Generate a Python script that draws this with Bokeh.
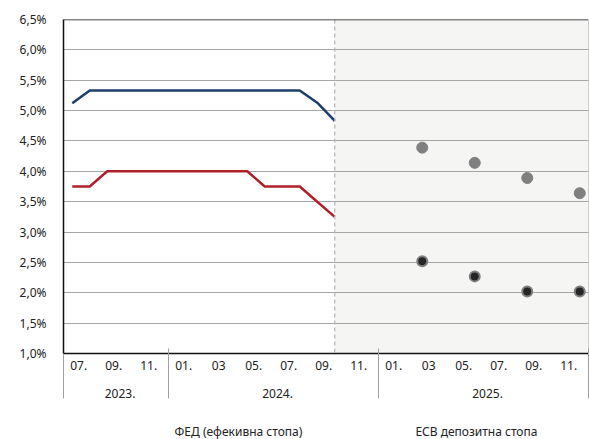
from bokeh.plotting import figure
from bokeh.layouts import column
from bokeh.models import (Range1d, LinearAxis, FixedTicker, Span, BoxAnnotation,
                          Legend, LegendItem, Grid, ColumnDataSource)
from bokeh.embed import file_html
from bokeh.resources import INLINE

# ---- data (month index 0 = Jul 2023) ----
hist_month = list(range(16))  # Jul 2023 .. Oct 2024
fed_rate = [5.12, 5.33, 5.33, 5.33, 5.33, 5.33, 5.33, 5.33, 5.33, 5.33,
            5.33, 5.33, 5.33, 5.33, 5.13, 4.83]
ecb_rate = [3.75, 3.75, 4.00, 4.00, 4.00, 4.00, 4.00, 4.00, 4.00, 4.00,
            4.00, 3.75, 3.75, 3.75, 3.50, 3.25]
exp_month = [20, 23, 26, 29]  # Mar, Jun, Sep, Dec 2025
fed_expected = [4.39, 4.14, 3.89, 3.64]
ecb_expected = [2.52, 2.27, 2.02, 2.02]
forecast_start = 15

month_tick_index = [0, 2, 4, 6, 8, 10, 12, 14, 16, 18, 20, 22, 24, 26, 28]
month_tick_labels = ["07.", "09.", "11.", "01.", "03", "05.", "07.", "09.", "11.",
                     "01.", "03", "05.", "07.", "09.", "11."]
year_center = [2.5, 11.5, 23.5]
year_labels = ["2023.", "2024.", "2025."]
year_bounds = [-0.5, 5.5, 17.5, 29.5]
y_ticks = [1.0, 1.5, 2.0, 2.5, 3.0, 3.5, 4.0, 4.5, 5.0, 5.5, 6.0, 6.5]
y_labels = ["1,0%", "1,5%", "2,0%", "2,5%", "3,0%", "3,5%", "4,0%", "4,5%",
            "5,0%", "5,5%", "6,0%", "6,5%"]
fed_name = "ФЕД (ефекивна стопа)"
ecb_name = "ЕСВ депозитна стопа"

FONT = "Noto Sans"
TXT = "#222222"
BLUE = "#1d3d6b"
RED = "#b0202a"
GRID = "#a6a6a6"

p = figure(frame_width=525, frame_height=334,
           x_range=Range1d(-0.5, 29.5), y_range=Range1d(1.0, 6.5),
           x_axis_type=None, y_axis_type=None,
           output_backend="svg", toolbar_location=None,
           min_border_left=63, min_border_top=19, min_border_right=1,
           min_border_bottom=69)
p.outline_line_color = None
p.background_fill_color = "white"

# forecast shading and divider
p.add_layout(BoxAnnotation(left=forecast_start, right=29.5, fill_color="#f5f5f3",
                           fill_alpha=1, line_color=None, level="image"))

yticker = FixedTicker(ticks=y_ticks)
p.add_layout(Grid(dimension=1, ticker=yticker, grid_line_color=GRID, grid_line_width=1))

p.add_layout(Span(location=forecast_start, dimension="height", line_color="#b4b4b4",
                  line_dash="4 3", line_width=1.2))
p.add_layout(Span(location=6.5, dimension="width", line_color="#111111", line_width=1.5))
p.add_layout(Span(location=29.5, dimension="height", line_color="#a0a0a0", line_width=1))

# y axis
yaxis = LinearAxis(ticker=yticker,
                   major_label_overrides={t: l for t, l in zip(y_ticks, y_labels)},
                   major_tick_out=0, major_tick_in=0, minor_tick_out=0, minor_tick_in=0,
                   axis_line_color="#111111", axis_line_width=1.5,
                   major_label_standoff=17,
                   major_label_text_font=FONT, major_label_text_font_size="12px",
                   major_label_text_color=TXT)
p.add_layout(yaxis, "left")

# x axes: months, then years (year boundaries drawn as minor ticks)
m_off = 0.37
m_ticks = [i + m_off for i in month_tick_index]
maxis = LinearAxis(ticker=FixedTicker(ticks=m_ticks),
                   major_label_overrides={t: l for t, l in zip(m_ticks, month_tick_labels)},
                   major_tick_out=0, major_tick_in=0, minor_tick_out=0, minor_tick_in=0,
                   axis_line_color="#111111", axis_line_width=1.5,
                   major_label_standoff=7,
                   major_label_text_font=FONT, major_label_text_font_size="12px",
                   major_label_text_color=TXT)
p.add_layout(maxis, "below")

y_off = 0.23
y_pos = [c + y_off for c in year_center]
yraxis = LinearAxis(ticker=FixedTicker(ticks=y_pos, minor_ticks=year_bounds),
                    major_label_overrides={t: l for t, l in zip(y_pos, year_labels)},
                    major_tick_out=0, major_tick_in=0,
                    minor_tick_in=24, minor_tick_out=26,
                    minor_tick_line_color="#a0a0a0", minor_tick_line_width=1,
                    axis_line_color=None, major_label_standoff=-10,
                    major_label_text_font=FONT, major_label_text_font_size="12px",
                    major_label_text_color=TXT)
p.add_layout(yraxis, "below")

# data
hist = ColumnDataSource(dict(x=hist_month, fed=fed_rate, ecb=ecb_rate))
exp = ColumnDataSource(dict(x=exp_month, fed=fed_expected, ecb=ecb_expected))
p.line("x", "fed", source=hist, line_color=BLUE, line_width=2.5)
p.line("x", "ecb", source=hist, line_color=RED, line_width=2.5)
p.scatter("x", "fed", source=exp, size=11, fill_color="#808080", line_color="#808080")
p.scatter("x", "ecb", source=exp, size=10, fill_color="#262626", line_color="#808080",
          line_width=2)

# legend strip (separate small figure directly below the chart)
lf = figure(frame_width=525, frame_height=17,
            x_range=Range1d(0, 1), y_range=Range1d(0, 1),
            x_axis_type=None, y_axis_type=None,
            output_backend="svg", toolbar_location=None,
            min_border_left=63, min_border_right=1, min_border_top=0,
            min_border_bottom=0)
lf.outline_line_color = None
lf.xgrid.visible = False
lf.ygrid.visible = False
empty = ColumnDataSource(dict(x=[], y=[]))
fed_key = lf.line("x", "y", source=empty, line_color=BLUE, line_width=2.5)
ecb_key = lf.line("x", "y", source=empty, line_color=RED, line_width=2.5)
legend = Legend(items=[LegendItem(label=fed_name, renderers=[fed_key]),
                       LegendItem(label=ecb_name, renderers=[ecb_key])],
                location="center", orientation="horizontal",
                glyph_width=50, glyph_height=12, label_standoff=11, spacing=52,
                padding=0, margin=0, border_line_color=None,
                background_fill_alpha=0,
                label_text_font=FONT, label_text_font_size="12px",
                label_text_color=TXT, label_height=12)
lf.add_layout(legend, "center")

layout = column(p, lf, spacing=0)
open("out.html", "w").write(file_html(layout, INLINE))
